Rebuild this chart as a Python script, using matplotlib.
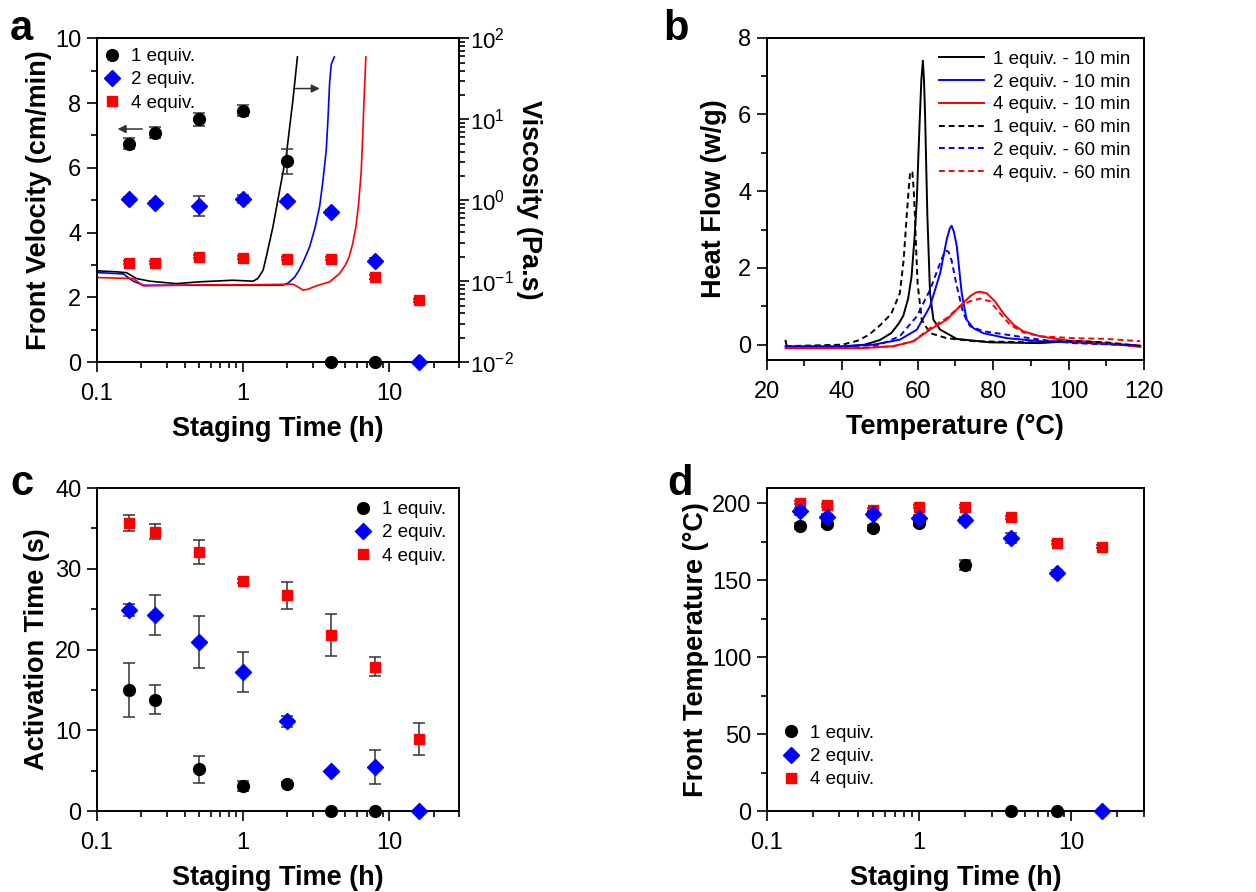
import numpy as np
import matplotlib
matplotlib.use("Agg")
import matplotlib.pyplot as plt
from matplotlib import font_manager
from matplotlib.ticker import MultipleLocator, LogLocator, NullFormatter, FixedLocator

names = {f.name for f in font_manager.fontManager.ttflist}
narrow = "Liberation Sans Narrow" if "Liberation Sans Narrow" in names else "Liberation Sans"

plt.rcParams["font.family"] = [narrow, "DejaVu Sans"]
plt.rcParams["mathtext.fontset"] = "custom"
plt.rcParams["mathtext.rm"] = narrow
plt.rcParams["mathtext.it"] = narrow
plt.rcParams["axes.linewidth"] = 1.4

# ---- dados ----
t = [1/6, 0.25, 0.5, 1, 2, 4, 8, 16]   # staging time (h)

# (a) front velocity (cm/min)
vel_1 = [6.75, 7.08, 7.5, 7.77, 6.2, 0, 0]
vel_1_err = [0.18, 0.17, 0.2, 0.16, 0.38, 0, 0]
vel_2 = [5.04, 4.93, 4.82, 5.04, 4.97, 4.63, 3.13, 0]
vel_2_err = [0.06, 0.05, 0.3, 0.13, 0.06, 0.08, 0.08, 0]
vel_4 = [3.07, 3.07, 3.26, 3.23, 3.19, 3.2, 2.63, 1.91]
vel_4_err = [0.05, 0.05, 0.05, 0.05, 0.05, 0.05, 0.05, 0.05]

# (a) viscosity curves (h, log10 Pa.s)
visc1_t = [0.1, 0.137, 0.16, 0.187, 0.231, 0.35, 0.5, 0.85, 1.17, 1.26, 1.37, 1.44, 1.6, 1.78, 1.98, 2.19, 2.35]
visc1_lg = [-0.872, -0.884, -0.895, -0.967, -1.0, -1.03, -1.008, -0.988, -1.0, -0.967, -0.864, -0.70, -0.326, 0.128, 0.58, 1.24, 1.77]
visc2_t = [0.1, 0.152, 0.178, 0.208, 0.5, 1.0, 1.87, 2.04, 2.25, 2.42, 2.62, 2.85, 3.1, 3.33, 3.5, 3.7, 3.8, 3.9, 4.0, 4.2]
visc2_lg = [-0.893, -0.91, -1.0, -1.05, -1.05, -1.05, -1.05, -1.02, -0.95, -0.86, -0.73, -0.574, -0.34, -0.08, 0.22, 0.624, 1.0, 1.45, 1.68, 1.77]
visc4_t = [0.1, 0.178, 0.208, 0.5, 1.0, 2.19, 2.37, 2.56, 2.76, 3.16, 3.9, 4.56, 5.0, 5.3, 5.6, 5.9, 6.15, 6.4, 6.55, 6.7, 6.9]
visc4_lg = [-0.955, -0.967, -1.058, -1.045, -1.045, -1.037, -1.07, -1.11, -1.10, -1.058, -1.008, -0.905, -0.80, -0.70, -0.54, -0.326, -0.05, 0.335, 0.75, 1.24, 1.77]

# (b) DSC heat flow (W/g)
T_1s = [25, 25.3, 26, 39.4, 46, 50, 53, 55, 56.2, 57.5, 58.4, 59.2, 59.8, 60.2, 60.6, 61.0, 61.4, 61.7, 62.0, 62.3, 62.6, 63.0, 63.3, 64.2, 66, 70.4, 79.2, 92.4, 100.4, 105, 110, 119]
hf_1s = [0.1, -0.02, -0.09, -0.06, 0.0, 0.12, 0.3, 0.55, 0.75, 1.2, 1.78, 2.8, 3.77, 4.9, 5.94, 6.9, 7.4, 6.9, 5.94, 4.6, 3.34, 2.2, 1.34, 0.65, 0.39, 0.15, 0.06, 0.04, 0.09, 0.08, 0.04, -0.04]
T_2s = [25, 40, 48.3, 55.3, 59.8, 63.3, 66, 67.7, 68.5, 69, 69.6, 70.4, 71.7, 73, 74.8, 77.4, 83.6, 92.4, 101.3, 119]
hf_2s = [-0.04, -0.04, 0.0, 0.13, 0.39, 1.0, 1.87, 2.73, 3.02, 3.1, 2.95, 2.56, 1.34, 0.65, 0.43, 0.3, 0.17, 0.09, 0.06, -0.03]
T_4s = [25, 45, 53.6, 58.9, 63.3, 67.7, 71.2, 73.9, 75.5, 76.5, 78.3, 80.5, 82.7, 85.4, 88, 92.4, 96.9, 101.3, 110, 119]
hf_4s = [-0.09, -0.09, -0.04, 0.09, 0.39, 0.65, 1.0, 1.26, 1.36, 1.38, 1.34, 1.13, 0.82, 0.52, 0.35, 0.22, 0.15, 0.09, 0.04, -0.06]
T_1d = [25, 40, 44, 47, 50, 53, 55.3, 56.3, 57.1, 57.6, 58.0, 58.3, 58.6, 59.0, 59.3, 59.7, 60.0, 61.1, 63.3, 67.7, 74.8, 90, 100, 110, 119]
hf_1d = [-0.04, 0.0, 0.1, 0.25, 0.5, 0.8, 1.34, 2.2, 3.34, 4.0, 4.47, 4.52, 4.5, 4.0, 3.34, 2.3, 1.6, 0.65, 0.3, 0.17, 0.09, 0.06, 0.1, 0.06, -0.03]
T_2d = [25, 45, 50, 55.3, 59.8, 63.3, 66, 67.0, 67.5, 68.2, 69, 70.4, 72.1, 73.9, 77.4, 83.6, 92.4, 101.3, 119]
hf_2d = [-0.04, -0.03, 0.0, 0.22, 0.74, 1.43, 2.13, 2.38, 2.45, 2.42, 2.2, 1.52, 0.82, 0.48, 0.35, 0.26, 0.13, 0.04, -0.02]
T_4d = [25, 45, 53.6, 58.9, 63.3, 67.7, 71.2, 73.9, 76.5, 79.2, 81.8, 84.5, 88, 92.4, 101.3, 110, 119]
hf_4d = [-0.09, -0.09, -0.04, 0.09, 0.43, 0.69, 1.0, 1.13, 1.2, 1.13, 0.82, 0.52, 0.32, 0.22, 0.17, 0.15, 0.09]

# (c) activation time (s)
act_1 = [15.0, 13.8, 5.17, 3.1, 3.4, 0, 0]
act_1_err = [3.3, 1.75, 1.65, 0.6, 0.2, 0, 0]
act_2 = [24.9, 24.3, 20.9, 17.2, 11.1, 4.92, 5.45, 0]
act_2_err = [0.8, 2.5, 3.2, 2.45, 0.7, 0.2, 2.05, 0]
act_4 = [35.7, 34.6, 32.1, 28.5, 26.7, 21.8, 17.9, 8.9]
act_4_err = [1.0, 0.9, 1.5, 0.3, 1.7, 2.6, 1.2, 2.0]

# (d) front temperature (°C)
ft_1 = [185.2, 186.5, 183.9, 187.4, 160.0, 0, 0]
ft_1_err = [2, 2, 2, 2, 3, 0, 0]
ft_2 = [194.8, 191.1, 193.3, 190.7, 189.1, 177.6, 155.0, 0]
ft_2_err = [2, 2, 2, 2, 2, 3.5, 2, 0]
ft_4 = [200.4, 198.9, 196.0, 197.8, 197.8, 190.9, 174.4, 172.0]
ft_4_err = [1, 1, 1, 1, 1, 1, 1, 1]

labels_eq = ["1 equiv.", "2 equiv.", "4 equiv."]
labels_dsc = ["1 equiv. - 10 min", "2 equiv. - 10 min", "4 equiv. - 10 min",
              "1 equiv. - 60 min", "2 equiv. - 60 min", "4 equiv. - 60 min"]

BLUE = "#0000ff"
RED = "#ff0000"
ERRC = "#333333"

fig = plt.figure(figsize=(12.56, 8.92), dpi=100)
axa = fig.add_axes([0.077, 0.594, 0.2887, 0.363])
axb = fig.add_axes([0.6104, 0.5964, 0.3004, 0.3614])
axc = fig.add_axes([0.077, 0.0908, 0.2887, 0.362])
axd = fig.add_axes([0.6104, 0.0908, 0.3004, 0.362])

label_font = dict(family="Liberation Sans", fontsize=19.5, fontweight="bold")


def style(ax):
    ax.tick_params(which="both", direction="out", labelsize=17, width=1.2, top=False, right=False)
    ax.tick_params(axis="x", pad=8)
    ax.tick_params(axis="y", pad=4)
    ax.tick_params(which="major", length=7)
    ax.tick_params(which="minor", length=4)


def scatter_series(ax, y1, e1, y2, e2, y4, e4):
    n1 = len(y1)
    ax.errorbar(t[:n1], y1, yerr=e1, fmt="o", color="black", ms=8.5, ecolor=ERRC,
                elinewidth=1.1, capsize=4, capthick=1.1, clip_on=False, zorder=3, label=labels_eq[0])
    ax.errorbar(t, y4, yerr=e4, fmt="s", color=RED, ms=7.5, ecolor=ERRC,
                elinewidth=1.1, capsize=4, capthick=1.1, clip_on=False, zorder=3, label=labels_eq[2])
    ax.errorbar(t, y2, yerr=e2, fmt="D", color=BLUE, ms=8.5, ecolor=ERRC,
                elinewidth=1.1, capsize=4, capthick=1.1, clip_on=False, zorder=4, label=labels_eq[1])


def log_x(ax):
    ax.set_xscale("log")
    ax.set_xlim(0.1, 30)
    ax.xaxis.set_major_locator(FixedLocator([0.1, 1, 10]))
    ax.set_xticklabels(["0.1", "1", "10"])
    ax.xaxis.set_minor_locator(LogLocator(base=10, subs=np.arange(2, 10), numticks=20))
    ax.xaxis.set_minor_formatter(NullFormatter())
    ax.set_xlabel("Staging Time (h)", **label_font, labelpad=8)


def legend_eq(ax, loc, **kw):
    h, l = ax.get_legend_handles_labels()
    order = [l.index(s) for s in labels_eq]
    hh = [h[i][0] for i in order]
    ax.legend(hh, labels_eq, loc=loc, frameon=False, fontsize=13.5, handletextpad=0.4,
              handlelength=1.2, labelspacing=0.32, borderaxespad=0.3, **kw)


# ---- painel a ----
axv = axa.twinx()
axv.set_yscale("log")
axv.set_ylim(1e-2, 1e2)
axv.plot(visc1_t, 10 ** np.array(visc1_lg), color="black", lw=1.2)
axv.plot(visc2_t, 10 ** np.array(visc2_lg), color=BLUE, lw=1.2)
axv.plot(visc4_t, 10 ** np.array(visc4_lg), color=RED, lw=1.2)
axv.tick_params(which="both", direction="out", labelsize=16, width=1.2)
axv.tick_params(which="major", length=7, pad=1)
axv.tick_params(which="minor", length=4)
axv.yaxis.set_minor_locator(LogLocator(base=10, subs=np.arange(2, 10), numticks=20))
axv.yaxis.set_minor_formatter(NullFormatter())
axv.set_ylabel("Viscosity (Pa.s)", **label_font, rotation=270, labelpad=20)
axa.set_zorder(axv.get_zorder() + 1)
axa.patch.set_visible(False)

scatter_series(axa, vel_1, vel_1_err, vel_2, vel_2_err, vel_4, vel_4_err)
style(axa)
log_x(axa)
axa.set_ylim(0, 10)
axa.yaxis.set_major_locator(MultipleLocator(2))
axa.yaxis.set_minor_locator(MultipleLocator(1))
axa.set_ylabel("Front Velocity (cm/min)", **label_font, labelpad=2)
legend_eq(axa, "upper left", bbox_to_anchor=(-0.025, 1.01))
axa.annotate("", xy=(0.133, 7.2), xytext=(0.214, 7.2),
             arrowprops=dict(arrowstyle="-|>", color="#333333", lw=1.1, mutation_scale=12))
axa.annotate("", xy=(3.49, 8.45), xytext=(2.19, 8.45),
             arrowprops=dict(arrowstyle="-|>", color="#333333", lw=1.1, mutation_scale=12))

# ---- painel b ----
axb.plot(T_1s, hf_1s, color="black", lw=1.4, label=labels_dsc[0])
axb.plot(T_2s, hf_2s, color=BLUE, lw=1.4, label=labels_dsc[1])
axb.plot(T_4s, hf_4s, color=RED, lw=1.4, label=labels_dsc[2])
axb.plot(T_1d, hf_1d, color="black", lw=1.4, ls=(0, (3, 2)), label=labels_dsc[3])
axb.plot(T_2d, hf_2d, color=BLUE, lw=1.4, ls=(0, (3, 2)), label=labels_dsc[4])
axb.plot(T_4d, hf_4d, color=RED, lw=1.4, ls=(0, (3, 2)), label=labels_dsc[5])
style(axb)
axb.set_xlim(20, 120)
axb.set_ylim(-0.4, 8)
axb.xaxis.set_major_locator(MultipleLocator(20))
axb.xaxis.set_minor_locator(MultipleLocator(10))
axb.yaxis.set_major_locator(MultipleLocator(2))
axb.yaxis.set_minor_locator(MultipleLocator(1))
axb.set_xlabel("Temperature (°C)", **label_font, labelpad=8)
axb.set_ylabel("Heat Flow (w/g)", **label_font, labelpad=8)
axb.legend(loc="upper right", frameon=False, fontsize=13.5, handlelength=2.4,
           labelspacing=0.3, handletextpad=0.5, borderaxespad=0.3, bbox_to_anchor=(1.0, 1.0))

# ---- painel c ----
scatter_series(axc, act_1, act_1_err, act_2, act_2_err, act_4, act_4_err)
style(axc)
log_x(axc)
axc.set_ylim(0, 40)
axc.yaxis.set_major_locator(MultipleLocator(10))
axc.yaxis.set_minor_locator(MultipleLocator(5))
axc.set_ylabel("Activation Time (s)", **label_font, labelpad=4)
legend_eq(axc, "upper right")

# ---- painel d ----
scatter_series(axd, ft_1, ft_1_err, ft_2, ft_2_err, ft_4, ft_4_err)
style(axd)
log_x(axd)
axd.set_ylim(0, 210)
axd.yaxis.set_major_locator(MultipleLocator(50))
axd.yaxis.set_minor_locator(MultipleLocator(25))
axd.set_ylabel("Front Temperature (°C)", **label_font, labelpad=2)
legend_eq(axd, "lower left", bbox_to_anchor=(0.0, 0.03))

for letter, x, y in [("a", 0.008, 0.967), ("b", 0.528, 0.967), ("c", 0.008, 0.457), ("d", 0.531, 0.457)]:
    fig.text(x, y, letter, family="Liberation Sans", fontsize=30, fontweight="bold", va="center")

fig.savefig("out.png", dpi=100)
